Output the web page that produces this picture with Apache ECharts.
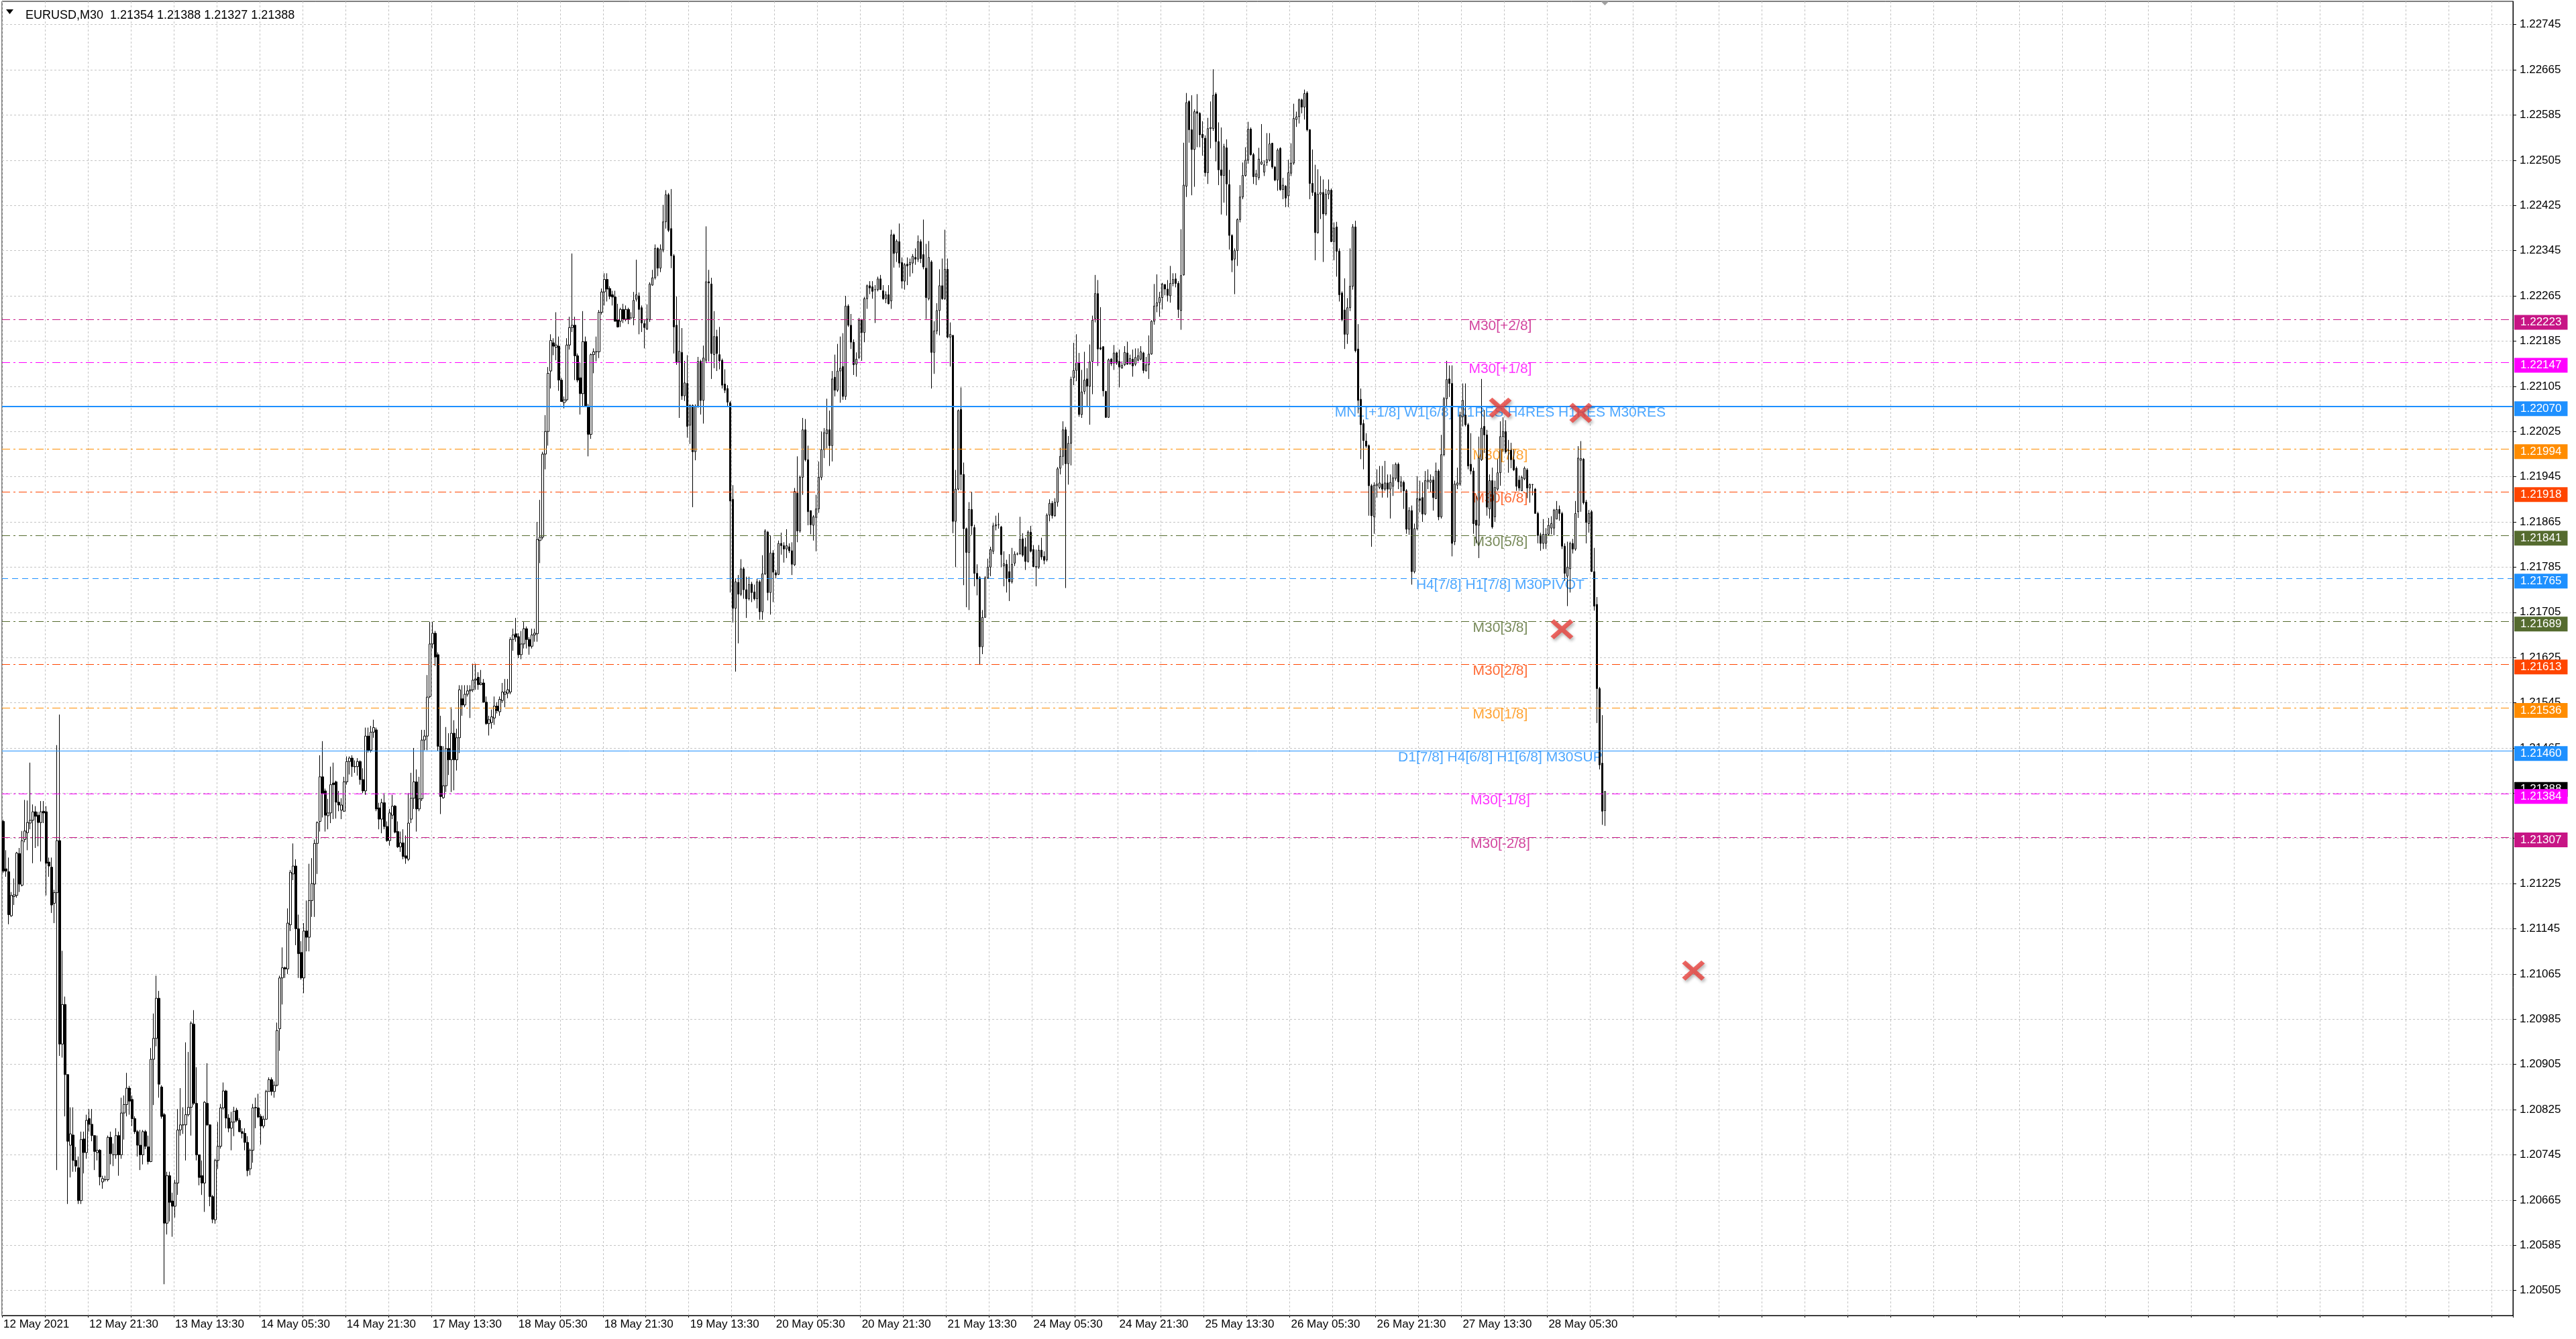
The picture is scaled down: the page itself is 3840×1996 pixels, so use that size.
<!DOCTYPE html>
<html><head><meta charset="utf-8">
<script src="https://cdn.jsdelivr.net/npm/echarts@6/dist/echarts.min.js"></script>
<style>html,body{margin:0;padding:0;background:#fff}#c{width:3840px;height:1996px}</style>
</head><body><div id="c"></div>
<script>
// ---------- DATA ----------
const symbolName = 'EURUSD,M30';
const dateLabels = ['12 May 2021','12 May 21:30','13 May 13:30','14 May 05:30','14 May 21:30','17 May 13:30','18 May 05:30','18 May 21:30','19 May 13:30','20 May 05:30','20 May 21:30','21 May 13:30','24 May 05:30','24 May 21:30','25 May 13:30','26 May 05:30','26 May 21:30','27 May 13:30','28 May 05:30'];
const yTickLabels = ['1.20505','1.20585','1.20665','1.20745','1.20825','1.20905','1.20985','1.21065','1.21145','1.21225','1.21305','1.21385','1.21465','1.21545','1.21625','1.21705','1.21785','1.21865','1.21945','1.22025','1.22105','1.22185','1.22265','1.22345','1.22425','1.22505','1.22585','1.22665','1.22745'];
// prices as points above 1.20000 (1 point = 0.00001)
const openPts = [1335,1251,1246,1168,1202,1204,1278,1222,1303,1315,
1332,1337,1352,1346,1333,1353,1352,1263,1254,1190,
1209,1301,941,1011,887,762,780,735,722,664,
773,749,809,799,779,749,753,697,701,701,
776,745,745,779,745,819,834,863,843,809,
786,762,745,786,759,733,914,951,1022,865,
816,624,708,663,654,695,789,798,798,816,
829,976,836,745,708,695,836,798,671,630,
735,760,828,858,810,792,803,824,806,786,
783,767,720,753,828,828,813,796,808,857,
878,857,868,968,1058,1076,1074,1152,1242,1256,
1145,1103,1058,1141,1130,1195,1224,1296,1335,1414,
1389,1345,1350,1403,1405,1369,1355,1353,1405,1441,
1447,1432,1432,1441,1409,1389,1486,1461,1493,1497,
1359,1339,1368,1326,1301,1346,1362,1317,1290,1297,
1274,1268,1339,1376,1405,1357,1375,1479,1486,1556,
1649,1668,1630,1468,1377,1398,1464,1444,1491,1444,
1483,1552,1541,1560,1566,1568,1585,1590,1577,1580,
1546,1508,1510,1518,1539,1529,1549,1560,1562,1564,
1657,1667,1662,1630,1649,1676,1657,1645,1665,1667,
1832,1838,1985,2025,2132,2182,2174,2176,2116,2076,
2081,2178,2209,2213,2159,2120,2092,2184,2070,2020,
2161,2166,2166,2236,2272,2294,2278,2267,2263,2223,
2220,2241,2224,2241,2226,2226,2259,2265,2244,2216,
2206,2223,2284,2297,2349,2314,2346,2396,2444,2384,
2336,2213,2148,2165,2088,2110,2036,2071,1989,2070,
2149,2080,2151,2290,2286,2161,2193,2161,2151,2109,
2101,2076,1905,1712,1758,1737,1782,1745,1729,1755,
1741,1729,1759,1706,1773,1847,1740,1810,1775,1772,
1827,1823,1817,1821,1814,1789,1916,1849,1944,2028,
1975,1885,1859,1873,1888,1944,1993,2021,2028,2000,
2121,2098,2132,2140,2087,2247,2213,2183,2144,2156,
2222,2200,2260,2283,2281,2276,2276,2295,2274,2260,
2267,2256,2373,2341,2361,2324,2291,2321,2320,2323,
2333,2330,2361,2338,2314,2260,2325,2165,2203,2239,
2283,2260,2312,2192,2195,1866,1923,2064,1949,1853,
1811,1887,1855,1774,1766,1644,1696,1766,1785,1813,
1858,1860,1856,1787,1790,1777,1759,1792,1808,1808,
1835,1821,1795,1847,1816,1785,1785,1815,1804,1798,
1877,1898,1876,1900,1960,1981,2028,1968,2004,2120,
2133,2147,2055,2096,2118,2105,2149,2225,2269,2173,
2175,2096,2050,2153,2146,2164,2149,2137,2143,2164,
2145,2153,2144,2151,2153,2164,2132,2143,2162,2220,
2247,2253,2262,2285,2277,2265,2287,2295,2287,2239,
2302,2459,2609,2559,2524,2591,2588,2551,2544,2483,
2561,2561,2622,2538,2488,2478,2527,2462,2372,2330,
2345,2400,2440,2478,2505,2560,2515,2476,2474,2498,
2484,2501,2505,2535,2493,2470,2526,2453,2459,2442,
2482,2500,2577,2582,2612,2599,2624,2559,2464,2448,
2377,2445,2448,2410,2445,2452,2361,2387,2344,2270,
2240,2197,2244,2282,2387,2171,2082,2039,2008,2000,
1929,1874,1929,1926,1932,1923,1934,1923,1928,1942,
1967,1928,1935,1920,1852,1885,1777,1853,1906,1908,
1879,1936,1935,1939,1906,1955,1874,1984,2083,2118,
2110,1830,1930,1932,2051,2054,2037,1967,1955,1868,
1859,1975,2034,2019,1888,1938,1874,1923,1952,2016,
2025,1992,1992,1975,1960,1939,1920,1941,1957,1925,
1931,1923,1880,1842,1827,1827,1843,1854,1854,1870,
1887,1880,1822,1769,1782,1827,1817,1883,1974,1976,
1900,1862,1883,1777,1719,1570,1438,1354];
const highPts = [1338,1284,1271,1210,1234,1281,1288,1318,1373,1372,
1439,1365,1362,1352,1371,1371,1362,1271,1271,1214,
1470,1524,1106,1025,887,829,829,759,742,786,
786,816,826,826,779,779,755,708,708,779,
786,765,792,786,846,850,890,867,850,813,
789,789,789,789,779,934,995,1062,1035,868,
819,715,715,678,701,826,863,829,944,927,
981,1001,900,745,735,840,907,799,674,738,
803,835,873,860,817,821,830,828,810,792,
792,778,756,835,846,853,817,814,860,882,
882,875,979,1062,1112,1078,1181,1249,1296,1268,
1170,1123,1155,1195,1260,1270,1303,1335,1452,1477,
1393,1375,1432,1439,1407,1389,1376,1414,1450,1450,
1452,1443,1447,1443,1429,1501,1501,1504,1515,1501,
1368,1375,1385,1335,1357,1382,1364,1335,1317,1321,
1310,1385,1421,1465,1427,1414,1497,1497,1594,1688,
1688,1672,1634,1522,1468,1502,1491,1537,1514,1499,
1576,1576,1576,1576,1576,1614,1614,1599,1603,1587,
1556,1522,1533,1556,1546,1556,1580,1587,1587,1661,
1676,1695,1668,1672,1688,1680,1661,1676,1676,1865,
1904,1989,2054,2139,2197,2190,2236,2193,2120,2087,
2190,2228,2340,2228,2163,2147,2238,2193,2074,2163,
2172,2193,2240,2278,2305,2305,2282,2274,2274,2251,
2244,2251,2248,2244,2236,2272,2329,2271,2248,2222,
2250,2289,2311,2356,2351,2356,2426,2452,2447,2454,
2339,2264,2222,2208,2150,2160,2073,2073,2073,2157,
2152,2177,2388,2311,2297,2238,2205,2210,2154,2135,
2107,2079,1930,1765,1771,1799,1785,1768,1768,1759,
1754,1765,1762,1806,1852,1849,1841,1815,1780,1832,
1846,1829,1852,1827,1829,1925,1981,1947,2049,2047,
2000,1885,1877,1913,1972,2025,2031,2083,2062,2132,
2161,2180,2193,2199,2265,2250,2233,2188,2165,2226,
2224,2263,2285,2291,2291,2284,2299,2302,2284,2273,
2284,2382,2375,2365,2393,2333,2323,2333,2331,2339,
2349,2372,2365,2400,2357,2362,2328,2220,2252,2312,
2331,2382,2331,2218,2196,1957,2064,2103,1970,1855,
1900,1918,1860,1790,1769,1709,1769,1800,1821,1863,
1876,1881,1858,1813,1798,1808,1819,1813,1811,1874,
1845,1837,1850,1858,1824,1816,1824,1837,1813,1880,
1905,1902,1907,1962,1996,2043,2033,2017,2122,2182,
2197,2164,2134,2166,2137,2179,2230,2302,2293,2245,
2176,2097,2154,2155,2178,2166,2170,2149,2176,2184,
2161,2170,2172,2172,2176,2166,2157,2195,2222,2286,
2303,2272,2288,2286,2293,2318,2305,2305,2291,2383,
2536,2624,2611,2620,2595,2622,2590,2574,2549,2580,
2609,2666,2625,2572,2563,2534,2542,2488,2374,2349,
2402,2461,2501,2528,2573,2563,2518,2488,2527,2569,
2505,2553,2553,2536,2495,2526,2528,2474,2461,2506,
2535,2605,2591,2614,2614,2630,2627,2560,2524,2497,
2489,2477,2471,2454,2471,2455,2395,2396,2349,2273,
2296,2261,2349,2392,2398,2215,2101,2046,2022,2002,
1932,1935,1958,1964,1964,1973,1949,1949,1967,1970,
1970,1946,1938,1923,1891,1894,1862,1946,1938,1935,
1955,1958,1949,1946,1970,1958,2019,2086,2150,2142,
2142,1938,1961,2060,2110,2110,2040,2022,1961,1911,
2016,2118,2063,2028,1949,1961,1938,1976,2043,2050,
2045,2010,2005,1994,1963,1947,1947,1963,1960,1933,
1932,1925,1883,1846,1870,1854,1872,1875,1888,1902,
1894,1883,1827,1830,1830,1835,1902,1999,2008,1978,
1904,1886,1886,1819,1732,1573,1523,1388];
const lowPts = [1244,1237,1153,1166,1187,1200,1210,1220,1298,1284,
1321,1261,1288,1291,1264,1332,1204,1237,1173,1155,
718,920,917,813,658,705,715,715,658,658,
712,738,786,769,718,735,691,685,698,698,
728,725,738,708,738,772,813,816,796,782,
742,718,728,755,728,732,833,937,846,809,
516,604,627,600,634,674,779,782,735,813,
779,833,735,691,674,644,796,654,624,623,
720,756,825,792,785,753,778,803,785,774,
753,707,709,731,792,810,763,792,807,857,
850,846,866,929,1011,1058,1065,1141,1231,1116,
1058,1055,1031,1105,1105,1166,1166,1242,1317,1342,
1317,1321,1332,1339,1340,1353,1339,1352,1400,1418,
1414,1421,1416,1400,1385,1382,1457,1457,1483,1353,
1321,1314,1321,1299,1292,1339,1314,1288,1281,1268,
1260,1265,1332,1357,1317,1353,1371,1461,1461,1553,
1641,1610,1460,1348,1375,1387,1417,1387,1390,1425,
1456,1522,1537,1556,1518,1564,1568,1568,1576,1545,
1506,1487,1499,1506,1526,1522,1545,1537,1553,1560,
1637,1653,1624,1622,1641,1641,1630,1641,1653,1653,
1792,1834,1958,2000,2101,2160,2151,2097,2078,2066,
2078,2170,2201,2116,2112,2055,2070,2070,1981,2012,
2128,2149,2155,2232,2248,2255,2259,2248,2220,2209,
2210,2217,2220,2215,2224,2213,2255,2197,2201,2172,
2205,2219,2283,2294,2300,2307,2342,2384,2378,2314,
2163,2143,2049,2081,2079,2014,2003,1891,1974,2067,
2055,2039,2146,2149,2118,2137,2132,2135,2101,2093,
2070,1740,1687,1600,1650,1734,1729,1695,1726,1723,
1726,1712,1692,1692,1771,1726,1701,1723,1765,1771,
1807,1793,1801,1810,1771,1787,1829,1846,1913,1972,
1859,1843,1832,1813,1881,1939,1978,1995,1964,1972,
2087,2095,2076,2081,2081,2210,2171,2125,2122,2153,
2150,2183,2242,2268,2260,2217,2273,2276,2258,2252,
2250,2242,2315,2325,2315,2278,2276,2284,2299,2305,
2320,2325,2323,2312,2224,2257,2101,2127,2197,2195,
2258,2258,2190,2140,1845,1785,1921,1921,1753,1714,
1709,1842,1751,1735,1612,1631,1704,1764,1769,1808,
1850,1853,1785,1751,1740,1725,1756,1787,1806,1808,
1803,1780,1793,1811,1785,1751,1782,1798,1790,1795,
1866,1871,1874,1892,1949,1965,1748,1931,1965,2107,
2114,2051,2049,2091,2070,2037,2091,2218,2141,2169,
2087,2049,2049,2141,2134,2143,2103,2137,2141,2143,
2143,2122,2141,2149,2151,2128,2132,2118,2161,2214,
2236,2228,2241,2266,2255,2253,2282,2280,2226,2205,
2301,2440,2536,2443,2458,2528,2528,2513,2476,2463,
2526,2557,2503,2461,2409,2430,2407,2347,2307,2268,
2318,2395,2436,2476,2499,2513,2463,2461,2470,2497,
2477,2495,2503,2490,2468,2451,2451,2436,2422,2422,
2477,2497,2564,2570,2588,2577,2556,2436,2442,2328,
2375,2401,2325,2407,2436,2360,2328,2299,2255,2220,
2171,2180,2238,2276,2165,2057,1976,1958,1996,1876,
1821,1844,1908,1923,1908,1920,1908,1871,1911,1938,
1923,1917,1888,1844,1842,1754,1774,1850,1882,1865,
1877,1923,1917,1885,1906,1868,1871,1981,2070,2086,
1804,1824,1923,1929,2034,2034,1958,1949,1844,1827,
1801,1973,1987,1876,1871,1853,1865,1920,1929,1989,
1986,1952,1960,1955,1920,1920,1920,1939,1907,1899,
1912,1880,1827,1814,1817,1817,1841,1843,1841,1870,
1867,1817,1761,1716,1740,1809,1814,1872,1883,1896,
1827,1846,1777,1708,1509,1427,1329,1327];
const closePts = [1247,1247,1170,1204,1205,1279,1224,1301,1318,1333,
1337,1352,1344,1333,1352,1350,1261,1256,1187,1209,
1301,941,1011,887,769,782,735,725,664,772,
749,806,799,779,751,753,706,703,701,776,
747,745,779,745,819,834,863,840,809,786,
762,745,786,760,733,914,951,1022,870,813,
624,708,661,654,695,789,798,798,816,829,
978,836,745,705,695,838,798,671,631,735,
760,828,858,810,792,803,822,806,786,783,
767,717,753,828,829,812,796,808,857,878,
857,868,965,1058,1076,1074,1155,1245,1256,1145,
1101,1058,1141,1130,1195,1225,1296,1333,1414,1385,
1346,1350,1400,1400,1369,1364,1364,1405,1441,1447,
1432,1432,1441,1409,1389,1486,1461,1493,1501,1357,
1339,1368,1326,1301,1350,1362,1316,1290,1297,1273,
1270,1332,1376,1405,1357,1375,1479,1486,1555,1649,
1668,1626,1468,1379,1398,1464,1444,1491,1444,1483,
1568,1541,1560,1566,1568,1585,1587,1577,1580,1546,
1508,1515,1520,1539,1531,1551,1564,1564,1568,1657,
1665,1661,1630,1649,1676,1657,1645,1665,1668,1834,
1838,1985,2025,2128,2186,2176,2178,2116,2078,2081,
2178,2209,2213,2159,2116,2092,2184,2070,2020,2161,
2166,2166,2236,2272,2294,2277,2264,2263,2220,2210,
2241,2224,2241,2224,2226,2257,2267,2241,2217,2209,
2224,2286,2297,2349,2314,2348,2396,2444,2381,2336,
2210,2148,2167,2088,2111,2034,2071,1989,2070,2149,
2080,2155,2290,2288,2163,2193,2163,2150,2107,2098,
2077,1902,1712,1759,1737,1782,1745,1729,1754,1740,
1729,1759,1706,1773,1849,1740,1810,1776,1771,1827,
1823,1817,1823,1814,1790,1919,1849,1944,2028,1975,
1883,1860,1874,1888,1944,1993,2023,2028,2000,2118,
2098,2132,2137,2087,2247,2213,2183,2143,2153,2222,
2200,2260,2283,2279,2273,2276,2295,2276,2260,2267,
2251,2373,2340,2362,2323,2291,2320,2318,2324,2335,
2330,2361,2331,2316,2262,2333,2165,2203,2239,2283,
2260,2312,2192,2197,1866,1923,2062,1949,1853,1811,
1887,1858,1774,1764,1644,1696,1766,1785,1816,1858,
1860,1860,1807,1791,1765,1759,1790,1808,1808,1834,
1806,1795,1847,1813,1786,1786,1815,1803,1797,1877,
1898,1876,1900,1959,1981,2028,1968,2004,2117,2133,
2147,2055,2095,2116,2105,2148,2222,2269,2171,2171,
2097,2050,2152,2145,2164,2146,2139,2142,2165,2144,
2154,2141,2156,2159,2166,2133,2143,2162,2220,2247,
2253,2262,2286,2277,2266,2287,2294,2287,2241,2301,
2461,2607,2559,2524,2591,2588,2550,2545,2483,2561,
2563,2620,2538,2488,2478,2529,2463,2372,2328,2345,
2400,2440,2478,2505,2560,2515,2476,2481,2507,2502,
2497,2506,2534,2493,2470,2523,2453,2461,2438,2483,
2500,2579,2582,2612,2599,2623,2559,2464,2448,2377,
2445,2448,2410,2445,2452,2361,2385,2344,2267,2223,
2197,2244,2282,2387,2168,2080,2037,2009,1999,1929,
1876,1930,1932,1934,1923,1934,1923,1935,1943,1967,
1936,1936,1920,1852,1885,1777,1853,1906,1903,1879,
1938,1939,1939,1908,1955,1874,1984,2083,2117,2110,
1827,1932,1934,2054,2080,2037,1964,1955,1862,1859,
1978,2031,2019,1891,1938,1856,1926,1952,2016,2025,
1989,1992,1975,1957,1928,1925,1944,1960,1925,1931,
1931,1880,1841,1827,1843,1843,1859,1862,1886,1887,
1880,1822,1774,1785,1827,1817,1880,1978,1977,1899,
1864,1880,1777,1716,1570,1435,1353,1388];
const levelPrices = [1.22223,1.22147,1.22070,1.21994,1.21918,1.21841,1.21765,1.21689,1.21613,1.21536,1.21460,1.21384,1.21307];
const levelNames = ['M30[+2/8]','M30[+1/8]','MN1[+1/8] W1[6/8] D1RES H4RES H1RES M30RES','M30[7/8]','M30[6/8]','M30[5/8]','H4[7/8] H1[7/8] M30PIVOT','M30[3/8]','M30[2/8]','M30[1/8]','D1[7/8] H4[6/8] H1[6/8] M30SUP','M30[-1/8]','M30[-2/8]'];
const currentPrice = 1.21388;
const crossMarks = [[558,1.22067],[588,1.22058],[581,1.21675],[630,1.21071]];
const totalBars = 936;
const levelLabelBar = 558;

// ---------- STYLES ----------
const FONT = '"Liberation Sans", Arial, sans-serif';
const VIOLET='#C71585', MAG='#FF00FF', BLUE='#1E90FF', ORG='#FF8C00', RED='#FF4500', OLIVE='#556B2F';
const levelColor = [VIOLET,MAG,BLUE,ORG,RED,OLIVE,BLUE,OLIVE,RED,ORG,BLUE,MAG,VIOLET];
const DD = [12,5,3,5];
const levelDash = [DD,DD,'solid',DD,DD,DD,[9,6],DD,DD,DD,'solid',DD,DD];
const levelWidth = [1,1,2,1,1,1,1,1,1,1,1,1,1];

// ---------- BUILD ----------
const toPrice = v => +(1.2 + v / 1e5).toFixed(5);
const candles = openPts.map((o, i) => {
  const O = toPrice(o), C = toPrice(closePts[i]);
  const H = Math.max(toPrice(highPts[i]), O, C), L = Math.min(toPrice(lowPts[i]), O, C);
  return [O, C, L, H];
});
const categories = Array.from({length: totalBars}, (_, i) => String(i));
const yTicks = yTickLabels.map(Number);
const last = candles.length - 1;
const headerText = symbolName + '  ' + [candles[last][0], candles[last][3], candles[last][2], candles[last][1]].map(v => v.toFixed(5)).join(' ');

const tag = (color) => ({show: true, position: 'end', color: '#fff', backgroundColor: color,
  padding: [3, 9, 2, 9], fontSize: 17, fontFamily: FONT, lineHeight: 17, distance: 2});

// one invisible-data line series per level carries its markLine
const levelSeries = levelPrices.map((p, i) => ({
  type: 'line', data: [], z: 2, silent: true,
  markLine: {silent: true, symbol: ['none', 'none'], animation: false, precision: 5,
    data: [{yAxis: p,
      lineStyle: {color: levelColor[i], width: levelWidth[i], type: levelDash[i]},
      label: Object.assign(tag(levelColor[i]), {formatter: p.toFixed(5), offset: [0, 4]})}]}
}));
const currentSeries = {
  type: 'line', data: [], z: 2, silent: true,
  markLine: {silent: true, symbol: ['none', 'none'], animation: false, precision: 5,
    data: [{yAxis: currentPrice, lineStyle: {color: 'rgba(0,0,0,0)', width: 0},
      label: Object.assign(tag('#000'), {formatter: currentPrice.toFixed(5), offset: [0, -3]})}]}
};

const chart = echarts.init(document.getElementById('c'), null, {renderer: 'canvas'});
const option = {
  animation: false,
  backgroundColor: '#fff',
  title: {text: headerText, left: 33, top: 8, textStyle: {fontSize: 18, fontWeight: 'normal', fontFamily: FONT, color: '#000', lineHeight: 20}},
  grid: {left: 3, right: 94, top: 2, bottom: 35, show: true, borderColor: '#000', borderWidth: 1, backgroundColor: '#fff'},
  xAxis: {
    type: 'category', data: categories, boundaryGap: true,
    axisLine: {show: true, lineStyle: {color: '#000', width: 1}},
    axisTick: {show: true, interval: i => i % 16 === 0, length: 3, lineStyle: {color: '#000'}},
    axisLabel: {interval: i => i % 32 === 0 && i / 32 < dateLabels.length,
      formatter: (v) => dateLabels[Number(v) / 32] || '', align: 'left', margin: 5,
      fontSize: 17, fontFamily: FONT, color: '#000'},
    splitLine: {show: true, interval: i => i % 16 === 0, lineStyle: {color: '#c4c4c4', type: [3, 3], width: 1}}
  },
  yAxis: {
    type: 'value', position: 'right', min: 1.204606, max: 1.227862, scale: true,
    axisLine: {show: true, lineStyle: {color: '#000', width: 1}},
    axisTick: {show: true, length: 5, customValues: yTicks, lineStyle: {color: '#000'}},
    axisLabel: {customValues: yTicks, formatter: v => v.toFixed(5), margin: 10, fontSize: 17, fontFamily: FONT, color: '#000'},
    splitLine: {show: true, lineStyle: {color: '#c4c4c4', type: [3, 3], width: 1}}
  },
  series: [
    currentSeries,
    ...levelSeries,
    {type: 'scatter', z: 3, silent: true, symbolSize: 1, itemStyle: {color: 'rgba(0,0,0,0)'},
     data: levelNames.map((t, i) => ({name: t, value: [levelLabelBar, levelPrices[i]], label: {color: levelColor[i]}})),
     label: {show: true, position: 'inside', formatter: '{b}', fontSize: 21, fontFamily: FONT, offset: [0, 10]}},
    {type: 'candlestick', z: 4, large: false, barWidth: 3, data: candles,
     itemStyle: {color: '#fff', color0: '#000', borderColor: '#000', borderColor0: '#000', borderWidth: 1}},
    {type: 'scatter', z: 5, silent: true,
     symbol: 'path://M3,0L10,7L17,0L20,3L13,10L20,17L17,20L10,13L3,20L0,17L7,10L0,3Z',
     symbolSize: [34, 30],
     itemStyle: {color: '#E8413C', shadowBlur: 4, shadowColor: 'rgba(0,0,0,0.35)', shadowOffsetX: 2, shadowOffsetY: 3},
     data: crossMarks}
  ]
};
chart.setOption(option);
const shiftX = chart.convertToPixel({xAxisIndex: 0}, last);
chart.setOption({graphic: [
  {type: 'polygon', shape: {points: [[9, 14], [20, 14], [14.5, 21]]}, style: {fill: '#000'}},
  {type: 'polygon', shape: {points: [[shiftX - 6, 2], [shiftX + 6, 2], [shiftX, 8]]}, style: {fill: '#a0a0a0'}}
]});
</script></body></html>
